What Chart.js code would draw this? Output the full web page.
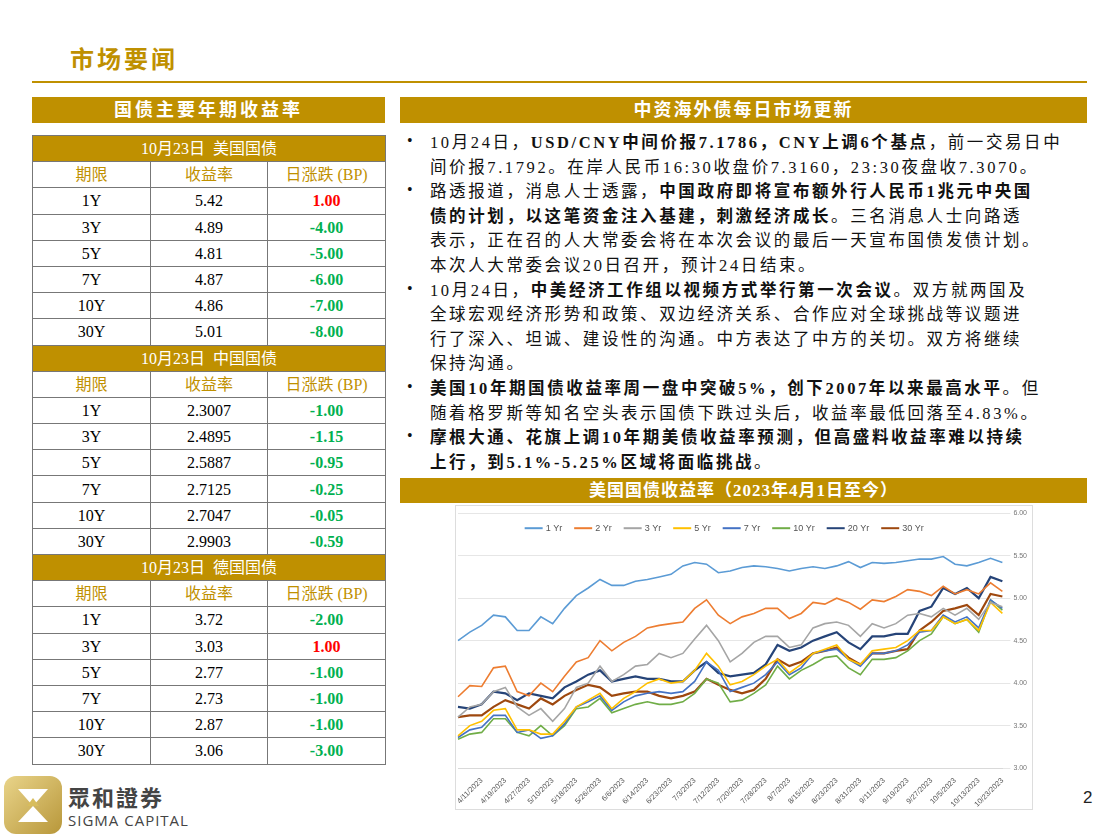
<!DOCTYPE html>
<html><head><meta charset="utf-8">
<script src="https://cdn.jsdelivr.net/npm/chart.js@4/dist/chart.umd.min.js"></script>
<style>
body{margin:0;width:1114px;height:837px;background:#fff;position:relative;overflow:hidden;font-family:"Liberation Serif","Noto Sans CJK SC",serif;}
.abs{position:absolute;}
.gold{background:#BF9000;color:#fff;text-align:center;font-weight:bold;}
table{border-collapse:collapse;position:absolute;left:32px;width:353px;table-layout:fixed;}
td{border:1px solid #777;height:25.2px;padding:0;text-align:center;font-size:16px;line-height:25px;}
td.sh{background:#BF9000;color:#fff;}
td.ch{color:#BF9000;}
.r{color:#FF0000;font-weight:bold}.g{color:#00B050;font-weight:bold}
.txt{left:430px;top:131px;width:660px;font-size:16.5px;line-height:24.6px;color:#111;letter-spacing:2.6px;white-space:nowrap}
.bul{position:absolute;left:407px;font-size:16px;color:#111}
</style></head><body>
<div class="abs" style="left:70px;top:40px;font-size:24px;color:#BF9000;font-weight:bold;letter-spacing:3px;">市场要闻</div>
<div class="abs" style="left:32px;top:81px;width:1055px;height:2px;background:#BF9000"></div>
<div class="abs gold" style="left:32px;top:97px;width:353px;height:26px;line-height:26px;font-size:18px;letter-spacing:3px">国债主要年期收益率</div>
<table id="tbl" style="top:135px"></table>
<div class="abs gold" style="left:400px;top:97px;width:687px;height:26px;line-height:26px;font-size:18px;letter-spacing:2px">中资海外债每日市场更新</div>
<div class="bul" style="top:132px">•</div>
<div class="bul" style="top:181px">•</div>
<div class="bul" style="top:280px">•</div>
<div class="bul" style="top:378px">•</div>
<div class="bul" style="top:427px">•</div>
<div class="abs txt">10月24日，<b>USD/CNY中间价报7.1786，CNY上调6个基点</b>，前一交易日中<br>间价报7.1792。在岸人民币16:30收盘价7.3160，23:30夜盘收7.3070。<br>路透报道，消息人士透露，<b>中国政府即将宣布额外行人民币1兆元中央国</b><br><b>债的计划，以这笔资金注入基建，刺激经济成长</b>。三名消息人士向路透<br>表示，正在召的人大常委会将在本次会议的最后一天宣布国债发债计划。<br>本次人大常委会议20日召开，预计24日结束。<br>10月24日，<b>中美经济工作组以视频方式举行第一次会议</b>。双方就两国及<br>全球宏观经济形势和政策、双边经济关系、合作应对全球挑战等议题进<br>行了深入、坦诚、建设性的沟通。中方表达了中方的关切。双方将继续<br>保持沟通。<br><b>美国10年期国债收益率周一盘中突破5%，创下2007年以来最高水平</b>。但<br>随着格罗斯等知名空头表示国债下跌过头后，收益率最低回落至4.83%。<br><b>摩根大通、花旗上调10年期美债收益率预测，但高盛料收益率难以持续</b><br><b>上行，到5.1%-5.25%区域将面临挑战</b>。</div>
<div class="abs gold" style="left:400px;top:478px;width:687px;height:25px;line-height:25px;font-size:17px;letter-spacing:1px">美国国债收益率（2023年4月1日至今）</div>
<div class="abs" style="left:455px;top:505px;width:576px;height:303px;border:1px solid #ddd;background:#fff"><canvas id="c"></canvas></div>
<div class="abs" style="left:4px;top:776px;width:58px;height:58px;border-radius:12px;background:linear-gradient(135deg,#e9d48a,#b8973a)"></div>
<svg class="abs" style="left:4px;top:776px" width="58" height="58"><polygon points="14,13 44,13 29,30" fill="#fff"/><polygon points="14,46 44,46 29,30" fill="#fff"/><polygon points="29,22 35,30 23,30" fill="#d8bd5c"/></svg>
<div class="abs" style="left:68px;top:780px;font-family:'Noto Sans CJK TC';font-weight:bold;font-size:22px;color:#444;letter-spacing:2px">眾和證券</div>
<div class="abs" style="left:68px;top:810px;font-family:'Open Sans';font-size:15px;color:#444;letter-spacing:1px">SIGMA CAPITAL</div>
<div class="abs" style="left:1083px;top:788px;font-family:'Liberation Sans';font-size:17px;color:#222">2</div>
<script>
const tenorUS=["1Y","3Y","5Y","7Y","10Y","30Y"];
const yieldUS=["5.42","4.89","4.81","4.87","4.86","5.01"];
const chgUS=["1.00","-4.00","-5.00","-6.00","-7.00","-8.00"];
const yieldCN=["2.3007","2.4895","2.5887","2.7125","2.7047","2.9903"];
const chgCN=["-1.00","-1.15","-0.95","-0.25","-0.05","-0.59"];
const yieldDE=["3.72","3.03","2.77","2.73","2.87","3.06"];
const chgDE=["-2.00","1.00","-1.00","-1.00","-1.00","-3.00"];

const dates=["4/3/2023","4/6/2023","4/11/2023","4/14/2023","4/19/2023","4/24/2023","4/27/2023","5/3/2023","5/10/2023","5/15/2023","5/18/2023","5/23/2023","5/26/2023","6/1/2023","6/6/2023","6/9/2023","6/14/2023","6/20/2023","6/23/2023","6/28/2023","7/3/2023","7/7/2023","7/12/2023","7/17/2023","7/20/2023","7/25/2023","7/28/2023","8/2/2023","8/7/2023","8/10/2023","8/15/2023","8/18/2023","8/23/2023","8/28/2023","8/31/2023","9/6/2023","9/11/2023","9/14/2023","9/19/2023","9/22/2023","9/27/2023","10/2/2023","10/5/2023","10/10/2023","10/13/2023","10/18/2023","10/23/2023"];
const y1=[4.50,4.60,4.68,4.80,4.78,4.62,4.62,4.78,4.70,4.88,5.03,5.12,5.22,5.15,5.15,5.20,5.22,5.25,5.28,5.38,5.42,5.40,5.30,5.32,5.36,5.38,5.37,5.35,5.32,5.35,5.37,5.35,5.38,5.43,5.36,5.42,5.41,5.42,5.44,5.46,5.46,5.49,5.40,5.38,5.42,5.47,5.42];
const y2=[3.84,3.97,3.96,4.18,4.20,3.90,3.85,4.00,3.90,4.08,4.25,4.30,4.50,4.38,4.48,4.55,4.65,4.68,4.70,4.72,4.88,4.98,4.80,4.70,4.78,4.82,4.88,4.88,4.76,4.82,4.95,4.93,5.00,4.95,4.87,4.98,4.96,5.02,5.10,5.08,5.03,5.14,5.05,5.10,5.05,5.18,5.08];
const y3=[3.60,3.72,3.75,3.90,3.95,3.72,3.62,3.70,3.55,3.70,3.95,4.00,4.20,4.02,4.10,4.20,4.22,4.35,4.30,4.35,4.52,4.68,4.50,4.25,4.35,4.48,4.55,4.55,4.42,4.45,4.65,4.70,4.72,4.68,4.55,4.70,4.65,4.70,4.80,4.82,4.78,4.88,4.80,4.88,4.75,4.95,4.90];
const y5=[3.38,3.50,3.55,3.68,3.70,3.45,3.45,3.40,3.40,3.55,3.72,3.80,3.88,3.70,3.82,3.90,4.00,4.05,4.00,4.02,4.15,4.35,4.20,3.98,4.02,4.10,4.20,4.28,4.12,4.22,4.35,4.40,4.45,4.28,4.22,4.38,4.40,4.42,4.50,4.62,4.62,4.78,4.70,4.75,4.62,4.95,4.82];
const y7=[3.36,3.45,3.48,3.62,3.62,3.42,3.45,3.35,3.38,3.52,3.72,3.78,3.85,3.68,3.78,3.85,3.88,3.90,3.88,3.90,4.02,4.25,4.15,3.90,3.95,4.00,4.10,4.25,4.10,4.18,4.35,4.38,4.40,4.28,4.20,4.35,4.35,4.38,4.45,4.60,4.62,4.80,4.72,4.78,4.65,4.98,4.88];
const y10=[3.34,3.40,3.42,3.58,3.58,3.42,3.38,3.50,3.38,3.50,3.70,3.72,3.82,3.65,3.70,3.75,3.78,3.75,3.75,3.78,3.88,4.05,4.00,3.78,3.80,3.88,3.98,4.20,4.05,4.15,4.22,4.30,4.32,4.18,4.10,4.28,4.28,4.30,4.38,4.50,4.58,4.78,4.70,4.75,4.60,4.98,4.86];
const y20=[3.72,3.70,3.75,3.90,3.88,3.80,3.88,3.85,3.82,3.95,4.02,4.10,4.15,4.02,4.05,4.08,4.05,4.05,4.02,4.02,4.15,4.25,4.12,4.08,4.10,4.12,4.22,4.45,4.38,4.42,4.50,4.55,4.60,4.48,4.40,4.55,4.55,4.58,4.58,4.85,4.90,5.12,5.05,5.12,5.00,5.25,5.20];
const y30=[3.60,3.62,3.62,3.72,3.80,3.75,3.70,3.82,3.75,3.85,3.92,3.98,3.95,3.85,3.88,3.90,3.90,3.85,3.82,3.85,3.90,4.05,3.98,3.92,3.88,3.92,4.05,4.28,4.20,4.25,4.35,4.38,4.42,4.30,4.22,4.35,4.35,4.38,4.40,4.62,4.72,4.85,4.88,4.92,4.80,5.05,5.02];
const seriesNames=["1 Yr","2 Yr","3 Yr","5 Yr","7 Yr","10 Yr","20 Yr","30 Yr"];
const yTicks=[3.0,3.5,4.0,4.5,5.0,5.5,6.0];

const tbl=document.getElementById('tbl');
let h='<colgroup><col style="width:118px"><col style="width:117px"><col style="width:118px"></colgroup>';
function sect(title,y,c){
  h+=`<tr><td colspan="3" class="sh">${title}</td></tr><tr><td class="ch">期限</td><td class="ch">收益率</td><td class="ch">日涨跌 (BP)</td></tr>`;
  tenorUS.forEach((t,i)=>{const v=c[i];h+=`<tr><td>${t}</td><td>${y[i]}</td><td class="${v.startsWith('-')?'g':'r'}">${v}</td></tr>`;});
}
sect("10月23日&nbsp; 美国国债",yieldUS,chgUS);
sect("10月23日&nbsp; 中国国债",yieldCN,chgCN);
sect("10月23日&nbsp; 德国国债",yieldDE,chgDE);
tbl.innerHTML=h;

// legend drawn inside plot area from the datasets' own labels/colours
const inLegend={id:'inLegend',afterDraw(chart){
  const ctx=chart.ctx,ds=chart.data.datasets;ctx.save();
  ctx.font='9px "Liberation Sans"';ctx.textBaseline='middle';
  const y=chart.chartArea.top+15;let total=0;const w=ds.map(d=>18+3+ctx.measureText(d.label).width+12);
  w.forEach(v=>total+=v);let x=(chart.chartArea.left+chart.chartArea.right)/2-total/2;
  ds.forEach((d,i)=>{ctx.strokeStyle=d.borderColor;ctx.lineWidth=2;ctx.beginPath();ctx.moveTo(x,y);ctx.lineTo(x+18,y);ctx.stroke();
    ctx.fillStyle='#555';ctx.fillText(d.label,x+21,y);x+=w[i];});
  ctx.restore();}};
const cols=["#5B9BD5","#ED7D31","#A5A5A5","#FFC000","#4472C4","#70AD47","#264478","#9E480E"];
const data=[y1,y2,y3,y5,y7,y10,y20,y30];
new Chart(document.getElementById('c'),{type:'line',
 data:{labels:dates,datasets:data.map((d,i)=>({label:seriesNames[i],data:d,borderColor:cols[i],backgroundColor:cols[i],borderWidth:i>=6?2.2:1.6,pointRadius:0,tension:0}))},
 options:{responsive:true,maintainAspectRatio:false,animation:false,
  layout:{padding:{left:2,right:2,top:5,bottom:0}},
  plugins:{legend:{display:false},tooltip:{enabled:false}},
  scales:{
   x:{grid:{display:false},border:{color:'#d9d9d9'},ticks:{autoSkip:false,maxRotation:45,minRotation:45,padding:0,font:{size:7.5,family:'Liberation Sans'},color:'#555',
     callback:function(v,i){return (i%2===0&&i>0)?dates[i]:'';}}},
   y:{position:'right',min:3,max:6,afterBuildTicks:a=>{a.ticks=yTicks.map(v=>({value:v}));},grid:{color:'#e6e6e6'},border:{display:false},
     ticks:{font:{size:7,family:'Liberation Sans'},color:'#777',callback:v=>v.toFixed(2)}}
  }},plugins:[inLegend]});
</script>
</body></html>
